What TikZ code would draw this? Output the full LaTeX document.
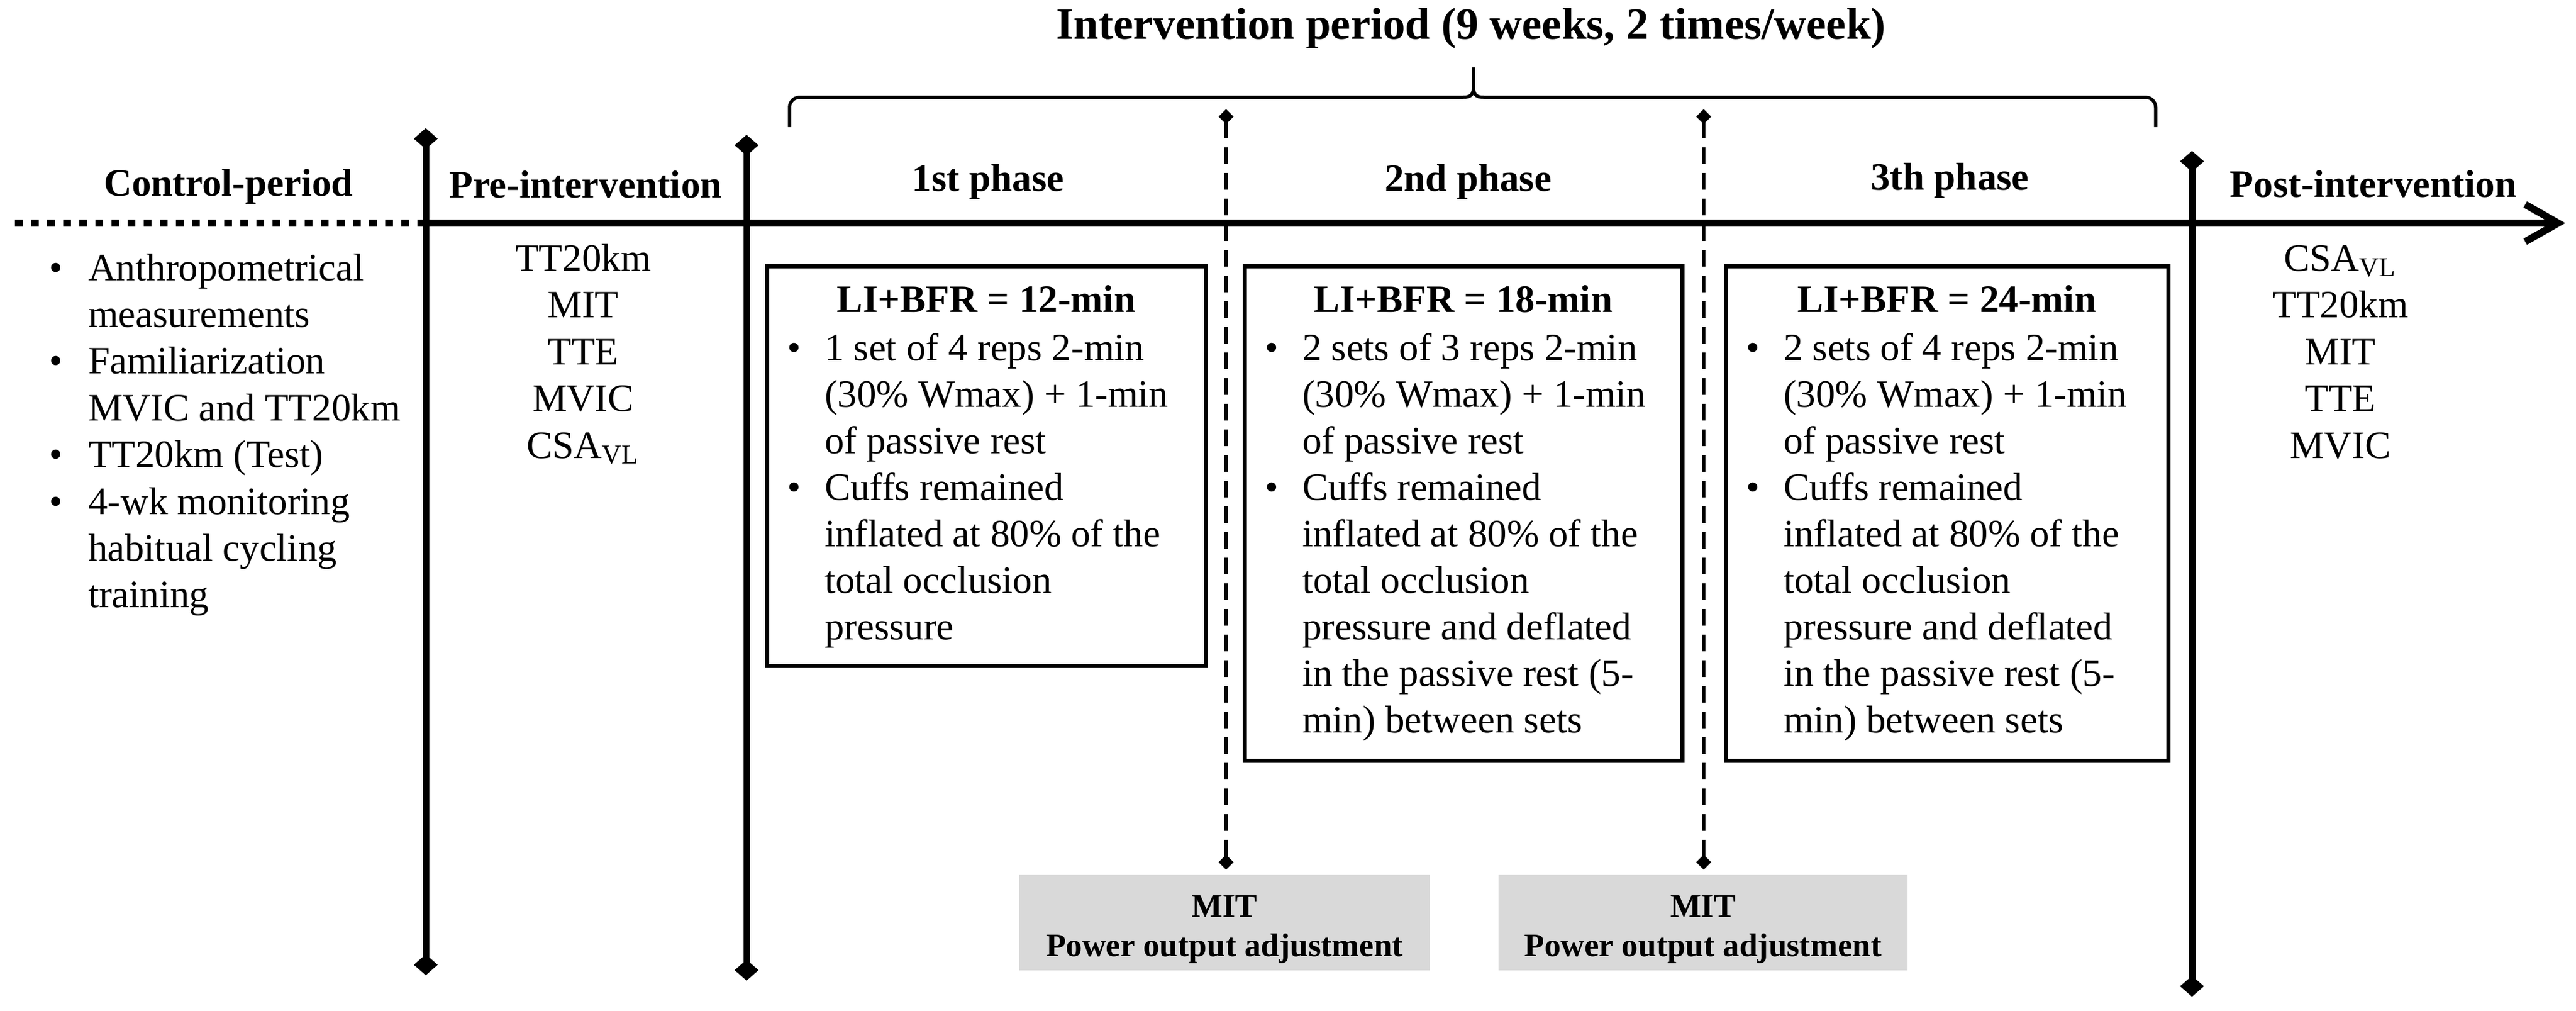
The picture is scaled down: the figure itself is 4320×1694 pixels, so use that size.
\documentclass[tikz,border=0pt]{standalone}
\usepackage{fontspec}
\setmainfont{Liberation Serif}
\usetikzlibrary{arrows.meta}
\definecolor{boxgray}{HTML}{D9D9D9}
\begin{document}
\begin{tikzpicture}[x=0.2pt,y=-0.2pt,
 body/.style={font=\fontsize{13}{15.6}\selectfont, inner sep=0pt, outer sep=0pt},
 lline/.style={body, anchor=base west},
 cline/.style={body, anchor=base},
 head/.style={inner sep=0pt, outer sep=0pt, anchor=base, font=\fontsize{13}{15.6}\selectfont\bfseries},
 bigtitle/.style={inner sep=0pt, outer sep=0pt, anchor=base, font=\fontsize{15}{18}\selectfont\bfseries},
 phasebox/.style={draw, line width=1.4pt, inner sep=0pt},
 graybox/.style={fill=boxgray, inner sep=0pt},
 graytext/.style={inner sep=0pt, anchor=base, font=\fontsize{11}{13.2}\selectfont\bfseries},
 solidv/.style={line width=2.2pt, {Diamond[length=7pt,width=8pt]}-{Diamond[length=7pt,width=8pt]}},
 dashv/.style={line width=1.2pt, dash pattern=on 5.6pt off 3pt, {Diamond[length=5pt,width=5pt]}-{Diamond[length=5pt,width=5pt]}},
 axisline/.style={line width=2.4pt},
 bracel/.style={line width=1.1pt, line join=round}
]
\useasboundingbox (0,0) rectangle (4320,1694);

% ---- axis ----
\coordinate (axL) at (25,374);
\coordinate (axM) at (705,374);
\coordinate (axR) at (4302,374);
\draw[axisline, dash pattern=on 2.6pt off 2.8pt] (axL) -- (axM);
\draw[axisline, -{Straight Barb[length=11pt,width=12.5pt]}] (axM) -- (axR);

% ---- vertical solid lines ----
\coordinate (preT) at (714,215);  \coordinate (preB) at (714,1635);
\coordinate (midT) at (1252,226); \coordinate (midB) at (1252,1644);
\coordinate (postT) at (3676,253); \coordinate (postB) at (3676,1671);
\draw[solidv] (preT) -- (preB);
\draw[solidv] (midT) -- (midB);
\draw[solidv] (postT) -- (postB);

% ---- dashed lines ----
\coordinate (d1T) at (2056,183); \coordinate (d1B) at (2056,1458);
\coordinate (d2T) at (2857,183); \coordinate (d2B) at (2857,1458);
\draw[dashv] (d1T) -- (d1B);
\draw[dashv] (d2T) -- (d2B);

% ---- brace ----
\draw[bracel] (1324,213) -- (1324,180) to[out=-90+180,in=180] (1341,163) -- (2454,163)
  .. controls (2467,163) and (2471,158) .. (2471,146) -- (2471,113);
\draw[bracel] (2471,146) .. controls (2471,158) and (2475,163) .. (2488,163) -- (3598,163)
  to[out=0,in=90] (3615,180) -- (3615,213);

% ---- headings ----
\node[bigtitle] (title) at (2467,65) {Intervention period (9 weeks, 2 times/week)};
\node[head] (hctrl) at (383,328) {Control-period};
\node[head] (hpre) at (982,331) {Pre-intervention};
\node[head] (h1) at (1657,320) {1st phase};
\node[head] (h2) at (2462,320) {2nd phase};
\node[head] (h3) at (3270,318) {3th phase};
\node[head] (hpost) at (3980,330) {Post-intervention};

% ---- control period list ----
\foreach \t [count=\i] in {{Anthropometrical},{measurements},{Familiarization},{MVIC and TT20km},{TT20km (Test)},{4-wk monitoring},{habitual cycling},{training}}
  \node[lline] (cl\i) at (148,{470+78.4*(\i-1)}) {\t};
\node[cline] (cb1) at (94,470) {•};
\node[cline] (cb2) at (94,626.8) {•};
\node[cline] (cb3) at (94,783.6) {•};
\node[cline] (cb4) at (94,862) {•};

% ---- pre-intervention list ----
\foreach \t [count=\i] in {{TT20km},{MIT},{TTE},{MVIC},{CSA\textsubscript{VL}}}
  \node[cline] (pl\i) at (978,{454+78.5*(\i-1)}) {\t};

% ---- post-intervention list ----
\foreach \t [count=\i] in {{CSA\textsubscript{VL}},{TT20km},{MIT},{TTE},{MVIC}}
  \node[cline] (ql\i) at (3925,{454+78.5*(\i-1)}) {\t};

% ---- phase boxes ----
\node[phasebox, minimum width=147.2pt, minimum height=134pt] (box1) at (1654,781) {};
\node[phasebox, minimum width=146.8pt, minimum height=165.8pt] (box2) at (2454,860.5) {};
\node[phasebox, minimum width=148.4pt, minimum height=165.8pt] (box3) at (3265,860.5) {};

\node[head] (bt1) at (1654,523) {LI+BFR = 12-min};
\node[head] (bt2) at (2454,523) {LI+BFR = 18-min};
\node[head] (bt3) at (3265,523) {LI+BFR = 24-min};

\foreach \t [count=\i] in {{1 set of 4 reps 2-min},{(30\% Wmax) + 1-min},{of passive rest},{Cuffs remained},{inflated at 80\% of the},{total occlusion},{pressure}}
  \node[lline] (ba\i) at (1383,{604+78*(\i-1)}) {\t};
\foreach \t [count=\i] in {{2 sets of 3 reps 2-min},{(30\% Wmax) + 1-min},{of passive rest},{Cuffs remained},{inflated at 80\% of the},{total occlusion},{pressure and deflated},{in the passive rest (5-},{min) between sets}}
  \node[lline] (bb\i) at (2184,{604+78*(\i-1)}) {\t};
\foreach \t [count=\i] in {{2 sets of 4 reps 2-min},{(30\% Wmax) + 1-min},{of passive rest},{Cuffs remained},{inflated at 80\% of the},{total occlusion},{pressure and deflated},{in the passive rest (5-},{min) between sets}}
  \node[lline] (bc\i) at (2991,{604+78*(\i-1)}) {\t};

\node[cline] (bab1) at (1332,604) {•};
\node[cline] (bab2) at (1332,838) {•};
\node[cline] (bbb1) at (2133,604) {•};
\node[cline] (bbb2) at (2133,838) {•};
\node[cline] (bcb1) at (2940,604) {•};
\node[cline] (bcb2) at (2940,838) {•};

% ---- gray boxes ----
\node[graybox, minimum width=137.8pt, minimum height=32pt] (gb1) at (2053.5,1547) {};
\node[graybox, minimum width=137.2pt, minimum height=32pt] (gb2) at (2856,1547) {};
\node[graytext] (g1a) at (2053.5,1537) {MIT};
\node[graytext] (g1b) at (2053.5,1603) {Power output adjustment};
\node[graytext] (g2a) at (2856,1537) {MIT};
\node[graytext] (g2b) at (2856,1603) {Power output adjustment};
\end{tikzpicture}
\end{document}
